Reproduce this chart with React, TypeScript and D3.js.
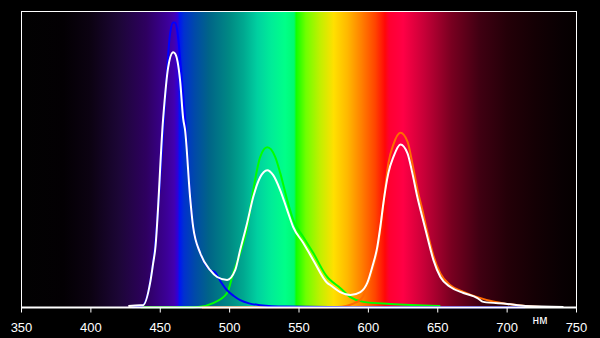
import React from "react";
import * as d3 from "d3";

const xTicks = [350, 400, 450, 500, 550, 600, 650, 700, 750];
const unitLabel = "нм";

const whiteNm = [427, 435.5, 437.6, 442.7, 444.9, 446.3, 452.1, 455.7, 459.3, 460.7, 464.3, 466.5, 467.9, 471.5, 473.7, 478.8, 486.0, 491.0, 498.2, 504.0, 507.6, 512.6, 517.0, 522.0, 527.1, 531.4, 536.5, 541.5, 545.8, 553.1, 560.3, 570.4, 572.5, 579.7, 587.0, 594.2, 599.2, 602.8, 606.4, 608.6, 610.8, 614.4, 618.0, 623.1, 628.2, 631.7, 635.3, 638.9, 642.5, 646.9, 651.9, 659.1, 668.5, 678.6, 682.9, 700.2, 713.2, 740.6];
const whiteVal = [0.5, 0.8, 0.8, 8.3, 15.0, 19.4, 63.9, 81.1, 86.2, 85.8, 76.7, 63.9, 59.9, 37.3, 27.2, 18.4, 12.6, 10.3, 9.3, 12.6, 19.4, 28.5, 37.3, 44.0, 46.4, 44.7, 39.6, 32.9, 27.2, 21.8, 16.0, 8.3, 7.6, 5.2, 4.2, 5.2, 8.3, 13.7, 20.4, 27.2, 35.2, 45.4, 50.8, 55.1, 52.1, 45.4, 37.3, 30.5, 23.8, 16.0, 10.3, 6.9, 4.9, 3.2, 1.9, 1.2, 0.5, 0.2];

const blueNm = [430, 437, 442.7, 446.3, 450, 453.5, 457.1, 459.3, 460.8, 462.2, 465.8, 467.9, 471.5, 473.7, 478.8, 486.0, 489.6, 493.5, 498.0, 503, 507.6, 514, 522.0, 540.1, 600, 713];
const blueVal = [0.1, 0.6, 8.5, 21, 44, 70.0, 92.6, 96.3, 96.2, 93.6, 75.7, 63.9, 37.3, 27.2, 18.4, 12.6, 11.8, 8.8, 5.9, 3.9, 2.5, 1.4, 0.8, 0.3, 0.1, 0.1];

const greenNm = [436, 470, 477.3, 488.1, 498.2, 502.6, 507.6, 512.7, 517.0, 522.0, 527.1, 532.9, 536.5, 541.5, 545.9, 553.1, 560.3, 570.4, 572.5, 579.7, 587.0, 596.3, 615.8, 651.9];
const greenVal = [0.1, 0.1, 0.2, 1.5, 4.9, 11.6, 18.4, 27.2, 39.6, 50.8, 54.1, 50.8, 45.4, 36.3, 29.5, 23.8, 18.4, 10.3, 9.3, 6.6, 3.5, 1.9, 1.2, 0.5];

const redNm = [480, 560, 577.6, 590, 595, 599.2, 602.8, 606.4, 608.6, 610.8, 614.4, 618.0, 623.1, 628.2, 631.7, 635.3, 638.9, 642.5, 646.9, 651.9, 659.1, 668.5, 678.6, 690, 700, 713, 725];
const redVal = [0.0, 0.1, 0.2, 1.5, 3.0, 7.0, 12.5, 19.5, 26.5, 35.0, 48.7, 55.0, 59.0, 56.0, 48.7, 40.0, 33.0, 25.5, 17.5, 11.5, 7.5, 5.3, 3.5, 2.0, 1.2, 0.5, 0.2];

const spectrumNm = [350, 380, 400, 420, 440, 455, 460, 462.5, 464, 467, 475, 485, 500, 510, 520, 530, 540, 546.5, 548, 555, 565, 575, 585, 595, 605, 612, 615, 625, 640, 660, 680, 700, 720, 740, 750];
const spectrumColor = ["#020202", "#030003", "#0c0212", "#1c0636", "#2e0060", "#3c0098", "#4200b0", "#3000d8", "#0018f0", "#0030d0", "#004aa8", "#006488", "#008a84", "#00a890", "#00d0a0", "#00ec98", "#00ff88", "#00fa70", "#10ff00", "#70ff00", "#c0f000", "#ffe000", "#ffb800", "#ff8000", "#ff4400", "#ff0808", "#ff0030", "#ff0045", "#c80038", "#780020", "#400012", "#240008", "#140004", "#080002", "#050000"];

const W = 600;
const H = 338;

export default function App() {
  const x = d3.scaleLinear().domain([350, 750]).range([21.5, 576.5]);
  const y = d3.scaleLinear().domain([0, 100]).range([307.5, 11.5]);
  const line = d3
    .line<[number, number]>()
    .x((d) => x(d[0]))
    .y((d) => y(d[1]))
    .curve(d3.curveMonotoneX);
  const pts = (a: number[], b: number[]) => a.map((v, i) => [v, b[i]] as [number, number]);

  return (
    <svg width={W} height={H} style={{ position: "absolute", left: 0, top: 0, background: "#000" }}>
      <defs>
        <linearGradient id="spec" gradientUnits="userSpaceOnUse" x1={x(350)} x2={x(750)} y1={0} y2={0}>
          {spectrumNm.map((n, i) => (
            <stop key={i} offset={(n - 350) / 400} stopColor={spectrumColor[i]} />
          ))}
        </linearGradient>
      </defs>
      <rect x={0} y={0} width={W} height={H} fill="#000" />
      <rect x={x(350)} y={y(100)} width={x(750) - x(350)} height={y(0) - y(100)} fill="url(#spec)" />
      <path d={line(pts(greenNm, greenVal)) || ""} fill="none" stroke="#00ff00" strokeWidth={2} />
      <path d={line(pts(redNm, redVal)) || ""} fill="none" stroke="#ff6a00" strokeWidth={2} />
      <path d={line(pts(blueNm, blueVal)) || ""} fill="none" stroke="#0000ff" strokeWidth={2} />
      <path d={line(pts(whiteNm, whiteVal)) || ""} fill="none" stroke="#ffffff" strokeWidth={2} />
      <rect x={x(350)} y={y(100)} width={x(750) - x(350)} height={y(0) - y(100)} fill="none" stroke="#fff" strokeWidth={1} />
      <line x1={x(350)} x2={x(750)} y1={y(0)} y2={y(0)} stroke="#fff" strokeWidth={2} />
      {xTicks.map((t) => (
        <g key={t}>
          <line x1={x(t)} x2={x(t)} y1={y(0)} y2={y(0) + 5} stroke="#fff" strokeWidth={1} />
          <text x={x(t)} y={331.5} fill="#fff" fontSize={13} fontFamily="Liberation Sans, Arial, sans-serif" textAnchor="middle">
            {t}
          </text>
        </g>
      ))}
      <text x={540} y={324} fill="#fff" fontSize={12} fontFamily="Liberation Sans, Arial, sans-serif" textAnchor="middle">
        {unitLabel}
      </text>
    </svg>
  );
}
